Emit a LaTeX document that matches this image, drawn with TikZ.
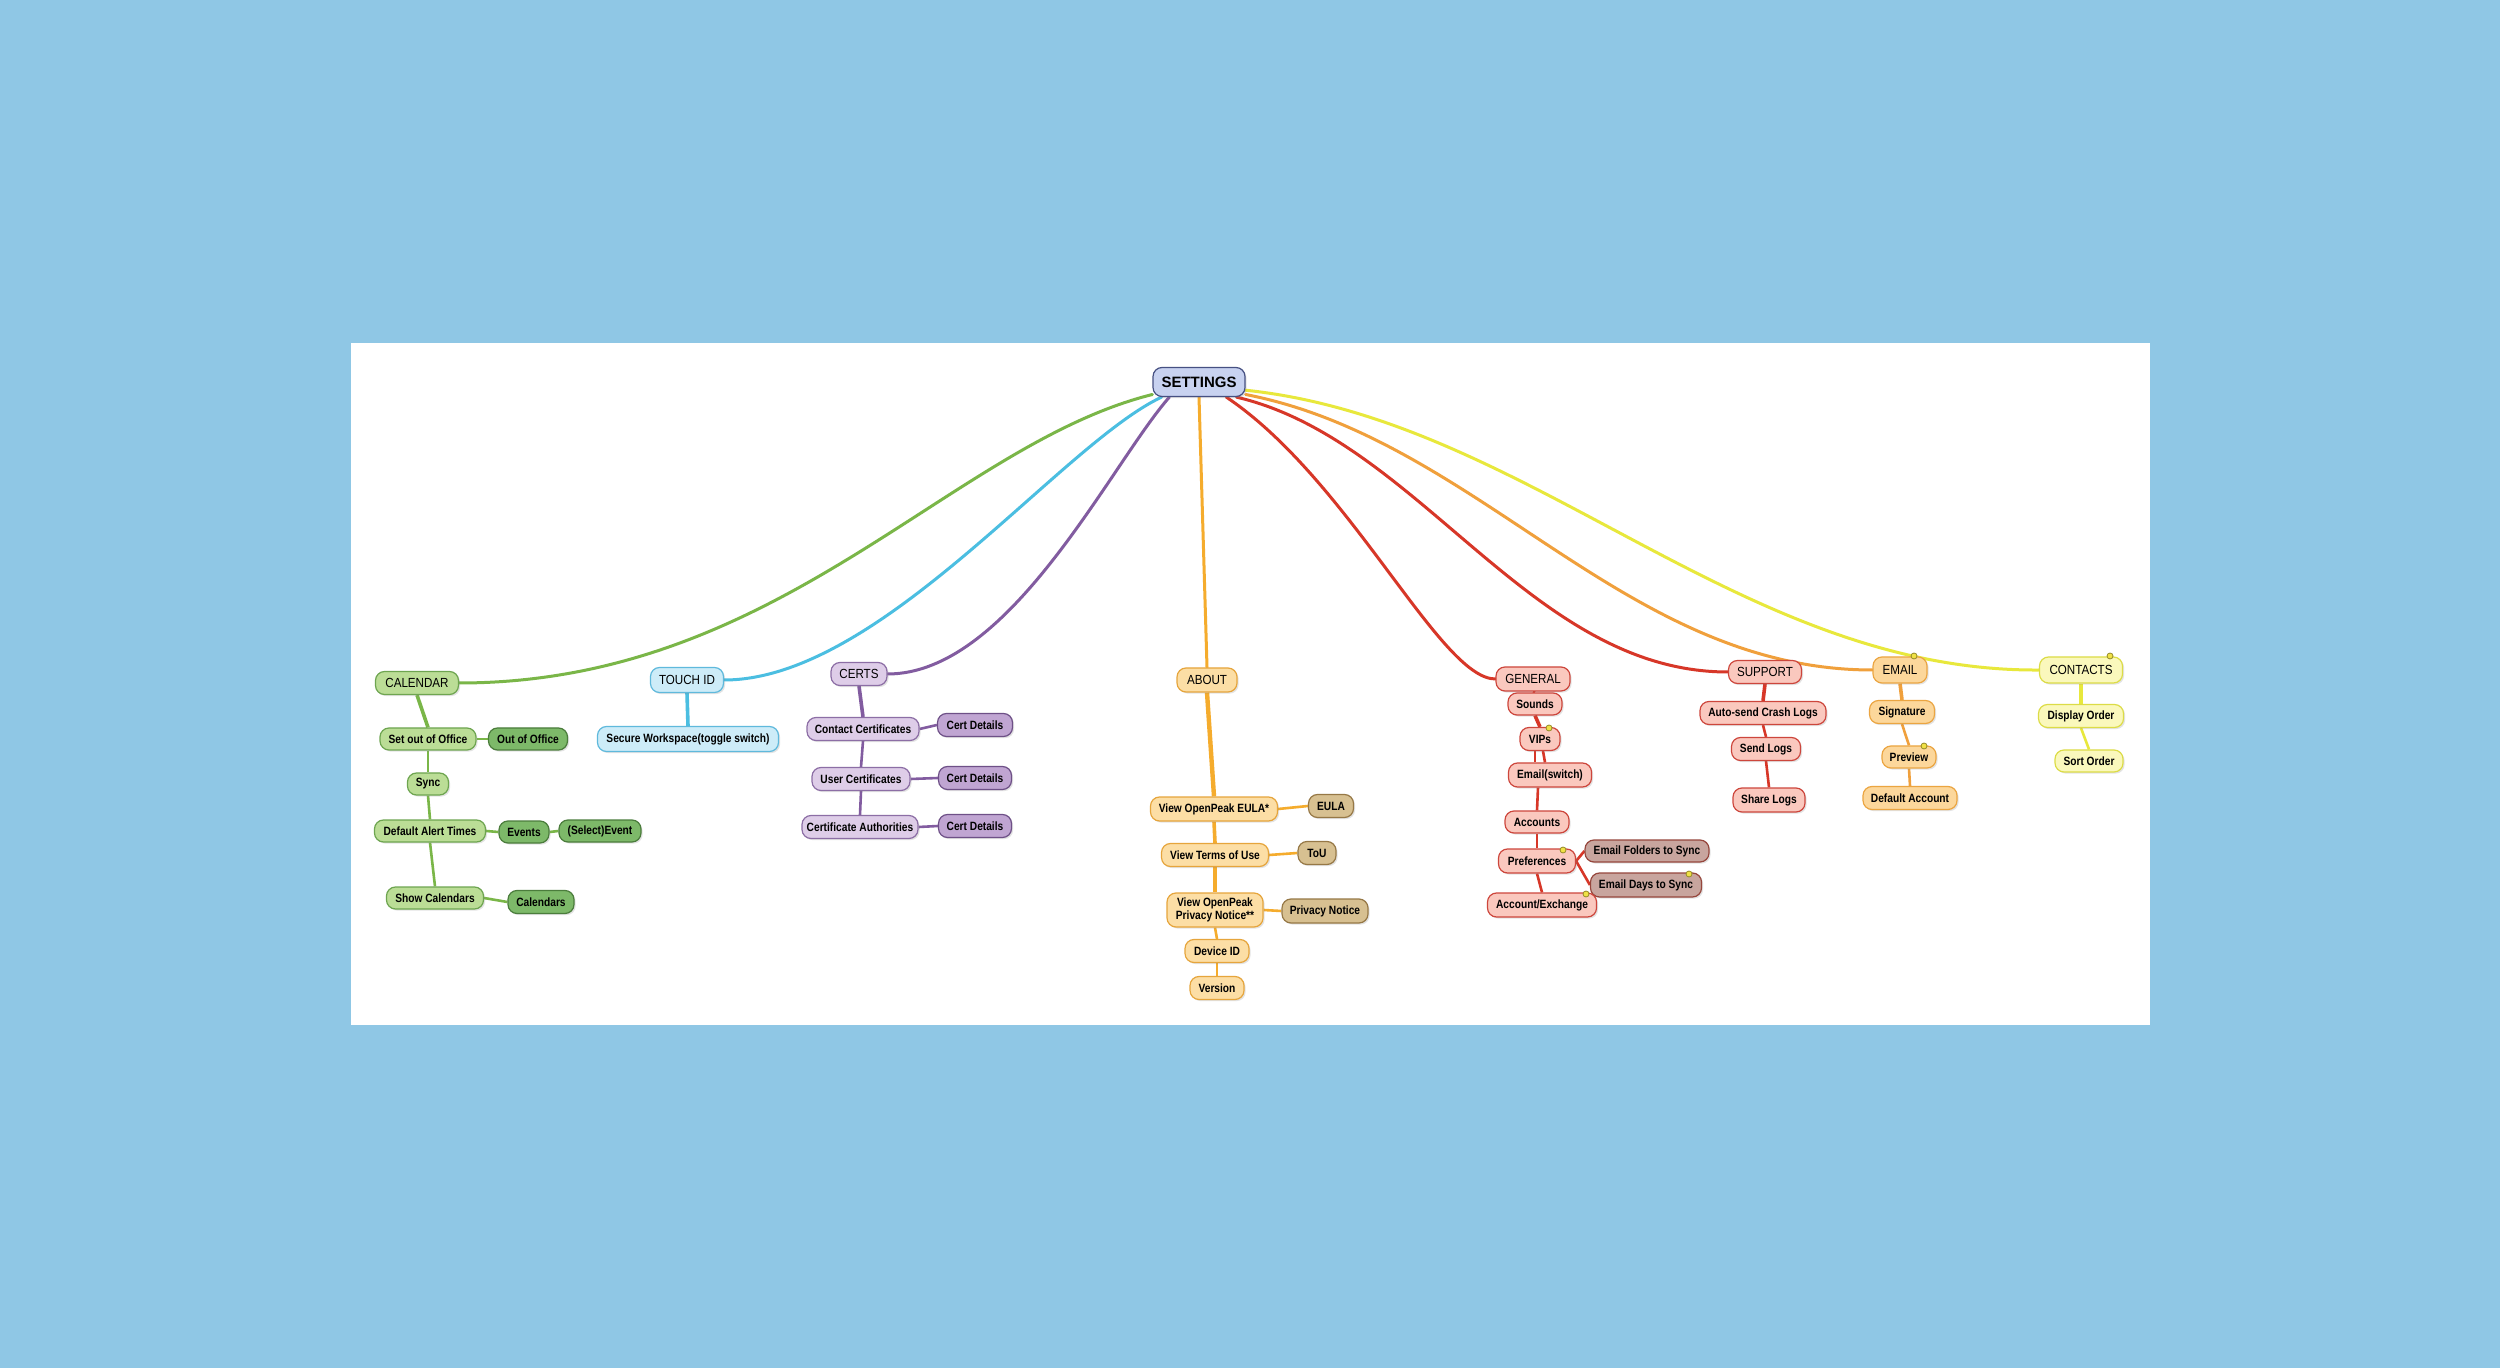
\documentclass[tikz,border=0pt]{standalone}
\usepackage{fontspec}
\setmainfont{Liberation Sans}
\newfontfamily\rootfont{Liberation Sans}
\newfontfamily\headfont[FakeStretch=0.88]{Liberation Sans}
\newfontfamily\childfont[FakeStretch=0.85]{Liberation Sans}
\usetikzlibrary{shadows}
\pgfdeclarelayer{bglayer}
\pgfdeclarelayer{edgelayer}
\pgfsetlayers{bglayer,edgelayer,main}
\definecolor{bgblue}{RGB}{143,199,229}
\definecolor{rootfill}{RGB}{200,210,240}
\definecolor{rootdraw}{RGB}{70,80,130}
\definecolor{gline}{RGB}{122,182,72}
\definecolor{gfill}{RGB}{187,221,150}
\definecolor{gdraw}{RGB}{110,165,80}
\definecolor{gdark}{RGB}{125,185,105}
\definecolor{gdarkdraw}{RGB}{75,125,60}
\definecolor{cline}{RGB}{75,190,225}
\definecolor{cfill}{RGB}{205,236,248}
\definecolor{cdraw}{RGB}{95,185,220}
\definecolor{pline}{RGB}{130,92,160}
\definecolor{pfill}{RGB}{222,205,232}
\definecolor{pdraw}{RGB}{140,110,165}
\definecolor{pdark}{RGB}{192,165,210}
\definecolor{pdarkdraw}{RGB}{110,80,135}
\definecolor{oline}{RGB}{245,172,45}
\definecolor{ofill}{RGB}{252,222,165}
\definecolor{odraw}{RGB}{230,165,60}
\definecolor{odark}{RGB}{215,192,145}
\definecolor{odarkdraw}{RGB}{150,120,70}
\definecolor{rline}{RGB}{215,55,40}
\definecolor{rfill}{RGB}{250,200,190}
\definecolor{rdraw}{RGB}{205,70,60}
\definecolor{rdark}{RGB}{200,165,158}
\definecolor{rdarkdraw}{RGB}{150,70,60}
\definecolor{eline}{RGB}{240,160,60}
\definecolor{efill}{RGB}{252,215,155}
\definecolor{edraw}{RGB}{235,165,65}
\definecolor{yline}{RGB}{232,232,60}
\definecolor{yfill}{RGB}{250,248,188}
\definecolor{ydraw}{RGB}{220,220,70}
\definecolor{nfill}{RGB}{240,225,70}
\definecolor{ndraw}{RGB}{150,140,40}
\tikzset{
  base/.style={rounded corners=4.5pt, inner sep=0pt, align=center, line width=0.6pt,
    drop shadow={shadow xshift=0.8pt, shadow yshift=-0.8pt, opacity=0.22}},
  sz/.style 2 args={minimum width=#1*0.5pt, minimum height=#2*0.5pt},
  rootnode/.style={base, fill=rootfill, draw=rootdraw, font=\rootfont\bfseries\fontsize{7.5}{8}\selectfont},
  head/.style={base, font=\headfont\fontsize{6.6}{7}\selectfont},
  kid/.style={base, font=\childfont\bfseries\fontsize{6}{6.6}\selectfont},
  gh/.style={head, fill=gfill, draw=gdraw}, gk/.style={kid, fill=gfill, draw=gdraw}, gd/.style={kid, fill=gdark, draw=gdarkdraw},
  ch/.style={head, fill=cfill, draw=cdraw}, ck/.style={kid, fill=cfill, draw=cdraw},
  ph/.style={head, fill=pfill, draw=pdraw}, pk/.style={kid, fill=pfill, draw=pdraw}, pd/.style={kid, fill=pdark, draw=pdarkdraw},
  oh/.style={head, fill=ofill, draw=odraw}, ok/.style={kid, fill=ofill, draw=odraw}, od/.style={kid, fill=odark, draw=odarkdraw},
  rh/.style={head, fill=rfill, draw=rdraw}, rk/.style={kid, fill=rfill, draw=rdraw}, rd/.style={kid, fill=rdark, draw=rdarkdraw},
  eh/.style={head, fill=efill, draw=edraw}, ek/.style={kid, fill=efill, draw=edraw},
  yh/.style={head, fill=yfill, draw=ydraw}, yk/.style={kid, fill=yfill, draw=ydraw},
  notemark/.style={circle, inner sep=0pt, minimum size=3pt, fill=nfill, draw=ndraw, line width=0.4pt},
  branch/.style={line width=1.5pt, line cap=round},
  trunk/.style={line width=1.8pt},
  twig/.style={line width=1.3pt},
}
\begin{document}
\begin{tikzpicture}[x=0.5pt, y=-0.5pt]
\begin{pgfonlayer}{bglayer}
\path[use as bounding box, fill=bgblue] (0,0) rectangle (2500,1368);
\fill[white] (351,343) rectangle (2150,1025);
\end{pgfonlayer}

% root
\node[rootnode, sz={92}{29}] (root) at (1199,382) {SETTINGS};

% CALENDAR
\node[gh, sz={83}{23}] (calendar) at (417,683) {CALENDAR};
\node[gk, sz={96}{22}] (setout) at (428,739) {Set out of Office};
\node[gd, sz={79}{22}] (outoffice) at (528,739) {Out of Office};
\node[gk, sz={41}{22}] (sync) at (428,784) {Sync};
\node[gk, sz={111}{22}] (defalert) at (430,831) {Default Alert Times};
\node[gd, sz={50}{22}] (events) at (524,832) {Events};
\node[gd, sz={82}{22}] (selevent) at (600,831) {(Select)Event};
\node[gk, sz={97}{22}] (showcal) at (435,898) {Show Calendars};
\node[gd, sz={66}{23}] (calendars) at (541,902) {Calendars};

% TOUCH ID
\node[ch, sz={73}{25}] (touchid) at (687,680) {TOUCH ID};
\node[ck, sz={181}{25}] (secure) at (688,739) {Secure Workspace(toggle switch)};

% CERTS
\node[ph, sz={56}{23}] (certs) at (859,674) {CERTS};
\node[pk, sz={112}{23}] (contact) at (863,729) {Contact Certificates};
\node[pd, sz={75}{23}] (cdone) at (975,725) {Cert Details};
\node[pk, sz={98}{23}] (user) at (861,779) {User Certificates};
\node[pd, sz={73}{23}] (cdtwo) at (975,778) {Cert Details};
\node[pk, sz={116}{23}] (ca) at (860,827) {Certificate Authorities};
\node[pd, sz={73}{23}] (cdthree) at (975,826) {Cert Details};

% ABOUT
\node[oh, sz={60}{24}] (about) at (1207,680) {ABOUT};
\node[ok, sz={127}{24}] (eulav) at (1214,809) {View OpenPeak EULA*};
\node[od, sz={45}{23}] (eula) at (1331,806) {EULA};
\node[ok, sz={107}{23}] (terms) at (1215,855) {View Terms of Use};
\node[od, sz={38}{23}] (tou) at (1317,853) {ToU};
\node[ok, sz={96}{34}] (privv) at (1215,910) {View OpenPeak\\Privacy Notice**};
\node[od, sz={86}{24}] (priv) at (1325,911) {Privacy Notice};
\node[ok, sz={64}{23}] (devid) at (1217,951) {Device ID};
\node[ok, sz={54}{23}] (version) at (1217,988) {Version};

% GENERAL
\node[rh, sz={74}{24}] (general) at (1533,679) {GENERAL};
\node[rk, sz={54}{22}] (sounds) at (1535,704) {Sounds};
\node[rk, sz={40}{23}] (vips) at (1540,739) {VIPs};
\node[rk, sz={83}{24}] (emailsw) at (1550,775) {Email(switch)};
\node[rk, sz={64}{22}] (accounts) at (1537,822) {Accounts};
\node[rk, sz={77}{24}] (prefs) at (1537,861) {Preferences};
\node[rd, sz={124}{22}] (efolders) at (1647,851) {Email Folders to Sync};
\node[rd, sz={111}{24}] (edays) at (1646,885) {Email Days to Sync};
\node[rk, sz={109}{24}] (acctex) at (1542,905) {Account/Exchange};

% SUPPORT
\node[rh, sz={73}{23}] (support) at (1765,672) {SUPPORT};
\node[rk, sz={126}{23}] (autosend) at (1763,713) {Auto-send Crash Logs};
\node[rk, sz={69}{23}] (sendlogs) at (1766,749) {Send Logs};
\node[rk, sz={72}{24}] (sharelogs) at (1769,800) {Share Logs};

% EMAIL
\node[eh, sz={54}{26}] (email) at (1900,670) {EMAIL};
\node[ek, sz={65}{23}] (signature) at (1902,712) {Signature};
\node[ek, sz={54}{22}] (preview) at (1909,757) {Preview};
\node[ek, sz={94}{23}] (defacct) at (1910,798) {Default Account};

% CONTACTS
\node[yh, sz={83}{26}] (contacts) at (2081,670) {CONTACTS};
\node[yk, sz={85}{23}] (disporder) at (2081,716) {Display Order};
\node[yk, sz={68}{22}] (sortorder) at (2089,761) {Sort Order};

% note markers
\node[notemark] (nvips) at (1549,728) {};
\node[notemark] (nprefs) at (1563,850) {};
\node[notemark] (nedays) at (1689,874) {};
\node[notemark] (nacctex) at (1586,894) {};
\node[notemark] (nemail) at (1914,656) {};
\node[notemark] (npreview) at (1924,746) {};
\node[notemark] (ncontacts) at (2110,656) {};

\begin{pgfonlayer}{edgelayer}
% main branches
\draw[branch, gline] (root.195) .. controls (950,445) and (780,683) .. (calendar.east);
\draw[branch, cline] (root.202) .. controls (1060,445) and (880,680) .. (touchid.east);
\draw[branch, pline] (root.207) .. controls (1110,465) and (1010,674) .. (certs.east);
\draw[branch, oline] (root.south) -- (about.north);
\draw[branch, rline] (root.-29) .. controls (1350,480) and (1440,679) .. (general.west);
\draw[branch, rline] (root.-22) .. controls (1420,440) and (1530,672) .. (support.west);
\draw[branch, eline] (root.-15) .. controls (1480,440) and (1625,670) .. (email.west);
\draw[branch, yline] (root.-10) .. controls (1530,420) and (1740,672) .. (contacts.west);

% calendar
\draw[trunk, gline] (calendar.south) -- (setout.north);
\draw[twig, gline] (setout.south) -- (sync.north);
\draw[twig, gline] (sync.south) -- (defalert.north);
\draw[twig, gline] (defalert.south) -- (showcal.north);
\draw[twig, gline] (setout.east) -- (outoffice.west);
\draw[twig, gline] (defalert.east) -- (events.west);
\draw[twig, gline] (events.east) -- (selevent.west);
\draw[twig, gline] (showcal.east) -- (calendars.west);

% touch id
\draw[trunk, cline] (touchid.south) -- (secure.north);

% certs
\draw[trunk, pline] (certs.south) -- (contact.north);
\draw[twig, pline] (contact.south) -- (user.north);
\draw[twig, pline] (user.south) -- (ca.north);
\draw[twig, pline] (contact.east) -- (cdone.west);
\draw[twig, pline] (user.east) -- (cdtwo.west);
\draw[twig, pline] (ca.east) -- (cdthree.west);

% about
\draw[line width=2.2pt, oline] (about.south) -- (eulav.north);
\draw[trunk, oline] (eulav.south) -- (terms.north);
\draw[trunk, oline] (terms.south) -- (privv.north);
\draw[twig, oline] (privv.south) -- (devid.north);
\draw[twig, oline] (devid.south) -- (version.north);
\draw[twig, oline] (eulav.east) -- (eula.west);
\draw[twig, oline] (terms.east) -- (tou.west);
\draw[twig, oline] (privv.east) -- (priv.west);

% general
\draw[trunk, rline] (general.south) -- (sounds.north);
\draw[trunk, rline] (sounds.south) -- (vips.north);
\draw[twig, rline] ([xshift=-2.5pt]vips.south) -- ([xshift=-7.5pt]emailsw.north);
\draw[twig, rline] ([xshift=1.5pt]vips.south) -- ([xshift=-2.5pt]emailsw.north);
\draw[twig, rline] ([xshift=-6pt]emailsw.south) -- (accounts.north);
\draw[twig, rline] (accounts.south) -- (prefs.north);
\draw[twig, rline] (prefs.south) -- (acctex.north);
\draw[twig, rline] (prefs.east) -- (efolders.west);
\draw[twig, rline] (prefs.east) -- (edays.west);

% support
\draw[trunk, rline] (support.south) -- (autosend.north);
\draw[twig, rline] (autosend.south) -- (sendlogs.north);
\draw[twig, rline] (sendlogs.south) -- (sharelogs.north);

% email
\draw[trunk, eline] (email.south) -- (signature.north);
\draw[twig, eline] (signature.south) -- (preview.north);
\draw[twig, eline] (preview.south) -- (defacct.north);

% contacts
\draw[trunk, yline] (contacts.south) -- (disporder.north);
\draw[twig, yline] (disporder.south) -- (sortorder.north);
\end{pgfonlayer}
\end{tikzpicture}
\end{document}
